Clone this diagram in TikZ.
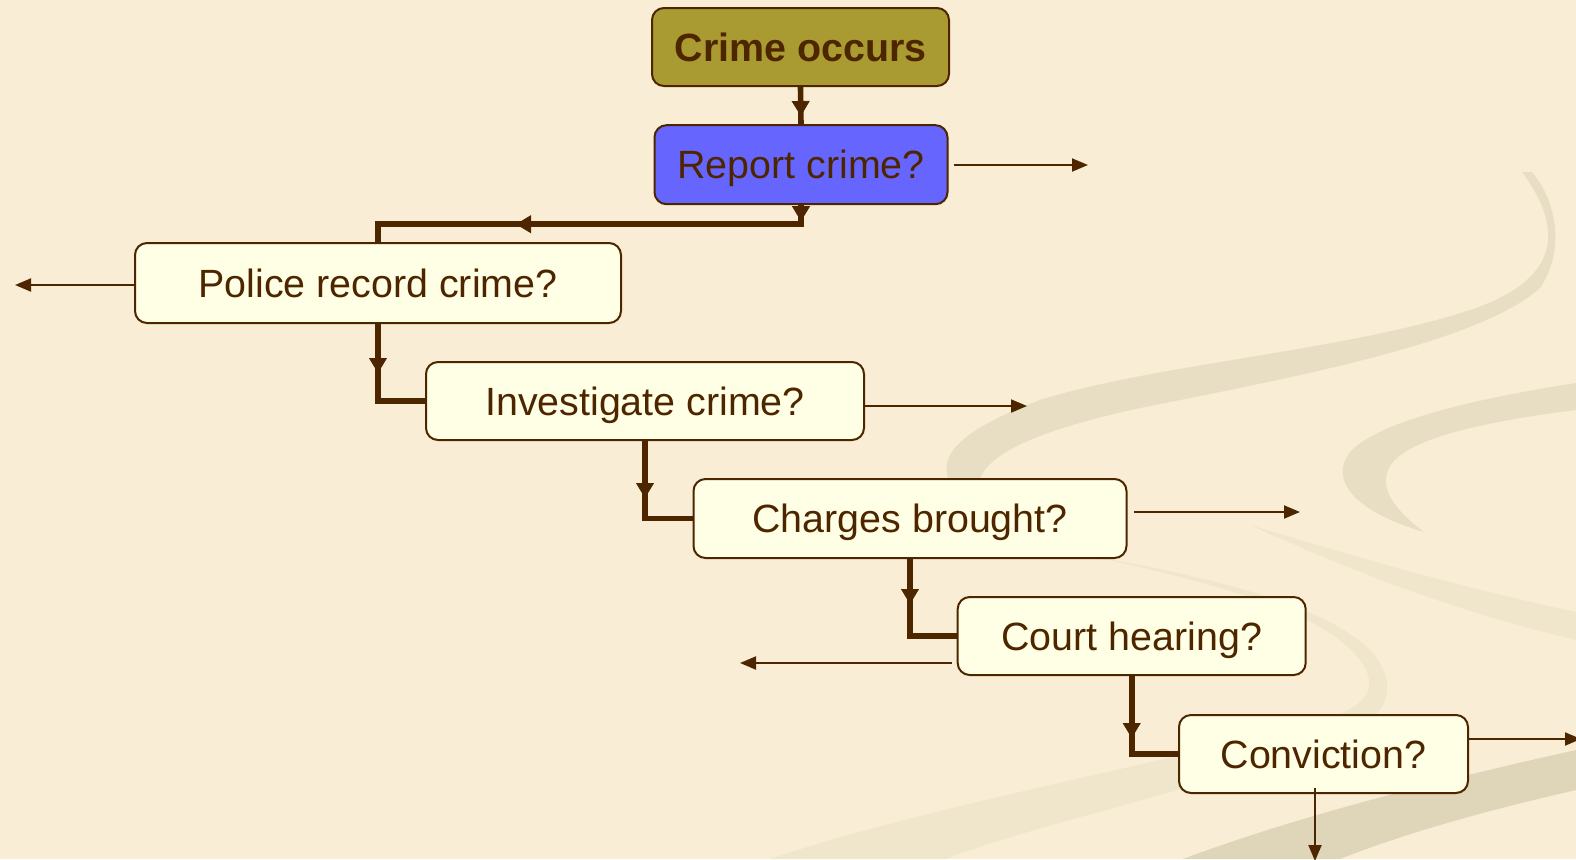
\documentclass[tikz,border=0pt]{standalone}
\usepackage{fontspec}
\setmainfont{Liberation Sans}
\usetikzlibrary{arrows.meta,decorations.markings}

\definecolor{pagebeige}{RGB}{249,238,213}
\definecolor{swirllight}{RGB}{240,230,203}
\definecolor{swirlmid}{RGB}{231,222,195}
\definecolor{swirldark}{RGB}{223,213,185}
\definecolor{brownline}{RGB}{77,38,0}
\definecolor{creambox}{RGB}{255,255,229}
\definecolor{olivebox}{RGB}{169,155,50}
\definecolor{bluebox}{RGB}{102,102,255}

\tikzset{
  stagebox/.style={draw=brownline,line width=1pt,rounded corners=6pt,fill=creambox,
    text=brownline,inner sep=0pt,text height=14.2pt,text depth=0pt,
    font=\fontsize{19.7}{24}\selectfont},
  flowline/.style={draw=brownline,line width=2.8pt},
  midtip/.style={postaction={decorate,decoration={markings,
    mark=at position #1 with {\arrow[line width=0.4pt]{Triangle[length=7.5pt,width=9pt]}}}}},
  exitline/.style={draw=brownline,line width=1pt,-{Triangle[length=8pt,width=6.5pt]}}
}

\begin{document}
\begin{tikzpicture}[x=0.5pt,y=0.5pt,yscale=-1,xscale=1]
	%Background
	\fill[pagebeige] (0,0) rectangle (1576,859);
	\useasboundingbox (0,0) rectangle (1576,859);
	
	%Swirl [upper]
	\fill[swirlmid] (1522,172) .. controls (1565,230) and (1560,280) .. (1470,310) .. controls (1350,350) and (1150,365) .. (1040,400) .. controls (960,430) and (940,455) .. (948,478) -- (980,478) .. controls (990,455) and (1030,432) .. (1140,408) .. controls (1300,376) and (1480,342) .. (1540,288) .. controls (1566,250) and (1556,200) .. (1532,172) -- cycle ;
	%Swirl [right]
	\fill[swirlmid] (1576,383) .. controls (1480,398) and (1380,420) .. (1350,452) .. controls (1330,478) and (1350,510) .. (1424,532) .. controls (1395,510) and (1380,490) .. (1388,470) .. controls (1400,440) and (1480,422) .. (1576,410) -- cycle ;
	%Swirl [faint tail]
	\fill[swirllight] (1250,525) .. controls (1350,555) and (1450,585) .. (1576,612) -- (1576,640) .. controls (1450,610) and (1350,570) .. (1250,525) -- cycle ;
	%Swirl [curl]
	\fill[swirllight] (1090,556) .. controls (1250,590) and (1330,620) .. (1360,660) .. controls (1385,695) and (1360,712) .. (1290,730) .. controls (1100,775) and (900,815) .. (770,859) -- (945,859) .. controls (1050,820) and (1200,790) .. (1330,742) .. controls (1400,715) and (1395,680) .. (1372,652) .. controls (1330,608) and (1220,578) .. (1090,556) -- cycle ;
	%Swirl [lower]
	\fill[swirldark] (1183,859) .. controls (1300,815) and (1450,778) .. (1576,750) -- (1576,790) .. controls (1480,812) and (1400,835) .. (1340,859) -- cycle ;
	
	%Rounded Rect
	\node[stagebox,fill=olivebox,minimum width=148.5pt,minimum height=39pt,font=\fontsize{19.7}{24}\selectfont\bfseries] (occ) at (800.5,47) {Crime occurs};
	%Rounded Rect
	\node[stagebox,fill=bluebox,minimum width=146.5pt,minimum height=39.5pt] (rep) at (801,164.7) {Report crime?};
	%Rounded Rect
	\node[stagebox,minimum width=243pt,minimum height=40pt] (pol) at (378,283) {Police record crime?};
	%Rounded Rect
	\node[stagebox,minimum width=219pt,minimum height=39pt] (inv) at (645,401) {Investigate crime?};
	%Rounded Rect
	\node[stagebox,minimum width=216.5pt,minimum height=39.5pt] (chg) at (910,518.5) {Charges brought?};
	%Rounded Rect
	\node[stagebox,minimum width=174pt,minimum height=39pt] (crt) at (1131.7,636) {Court hearing?};
	%Rounded Rect
	\node[stagebox,minimum width=144.5pt,minimum height=39pt] (con) at (1323.5,754) {Conviction?};
	
	%Straight Lines
	\draw[flowline,midtip=14.5pt] (occ.south) -- (rep.north) ;
	\draw[flowline,midtip=8pt,midtip=152pt] (rep.south) -- ++(0,19) -| (pol.north) ;
	\draw[flowline,midtip=24.5pt] (pol.south) |- (inv.west) ;
	\draw[flowline,midtip=28.5pt] (inv.south) |- (chg.west) ;
	\draw[flowline,midtip=22.5pt] (chg.south) |- (crt.west) ;
	\draw[flowline,midtip=31pt] (crt.south) |- (con.west) ;
	
	%Exit arrows
	\coordinate (repout) at (1088,165);
	\coordinate (polout) at (15,285);
	\coordinate (invout) at (1027,406);
	\coordinate (chgout) at (1300,512);
	\coordinate (crtout) at (740,663);
	\coordinate (conout) at (1581,739);
	\coordinate (condown) at (1315,861);
	\draw[exitline] ([xshift=2.5pt]rep.east |- repout) -- (repout) ;
	\draw[exitline] (pol.west |- polout) -- (polout) ;
	\draw[exitline] (inv.east |- invout) -- (invout) ;
	\draw[exitline] ([xshift=3pt]chg.east |- chgout) -- (chgout) ;
	\draw[exitline] ([xshift=-2.5pt]crt.west |- crtout) -- (crtout) ;
	\draw[exitline] (con.east |- conout) -- (conout) ;
	\draw[exitline] ([yshift=-3pt]condown |- con.south) -- (condown) ;
	
\end{tikzpicture}
\end{document}
